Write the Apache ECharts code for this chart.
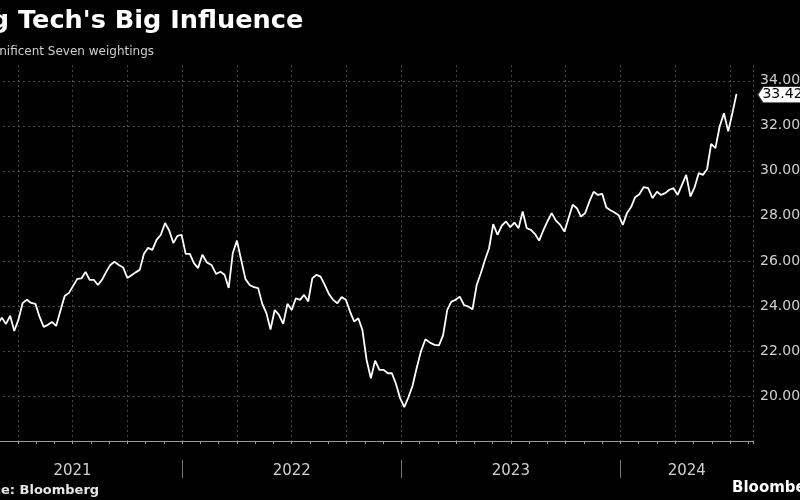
<!DOCTYPE html>
<html><head><meta charset="utf-8">
<script src="https://cdn.jsdelivr.net/npm/echarts@6/dist/echarts.min.js"></script>
<style>html,body{margin:0;padding:0;background:#000}#c{width:800px;height:500px}</style>
</head><body><div id="c"></div>
<script>
const titleText = "Big Tech's Big Influence";
const subtitleText = "Magnificent Seven weightings";
const sourceText = "Source: Bloomberg";
const brandText = "Bloomberg";
const firstWeek = "2021-01-01";   // weekly observations from this date
const axisEnd = "2024-08-09";
const yearLabels = ["2021", "2022", "2023", "2024"];
const weightings = [
 22.8,23.0,22.9,23.2,23.4,23.3,23.6,23.5,23.2,23.47,
 23.2,23.56,22.89,23.38,24.13,24.27,24.13,24.09,23.51,23.07,
 23.16,23.29,23.11,23.78,24.44,24.58,24.89,25.20,25.22,25.51,
 25.16,25.16,24.93,25.16,25.51,25.82,25.96,25.82,25.71,25.24,
 25.36,25.49,25.60,26.31,26.58,26.49,26.93,27.16,27.68,27.35,
 26.79,27.11,27.16,26.31,26.31,25.90,25.68,26.27,25.93,25.82,
 25.42,25.52,25.38,24.80,26.35,26.90,26.04,25.19,24.93,24.83,
 24.79,24.09,23.68,22.95,23.82,23.60,23.20,24.09,23.82,24.34,
 24.27,24.49,24.20,25.23,25.38,25.30,24.93,24.53,24.27,24.12,
 24.39,24.27,23.75,23.30,23.45,22.93,21.60,20.79,21.57,21.16,
 21.16,21.01,21.01,20.53,19.90,19.50,19.94,20.44,21.23,21.97,
 22.52,22.37,22.27,22.25,22.70,23.82,24.19,24.27,24.41,24.04,
 23.97,23.85,24.93,25.45,26.04,26.56,27.63,27.16,27.56,27.75,
 27.50,27.70,27.45,28.19,27.45,27.38,27.19,26.90,27.35,27.75,
 28.12,27.79,27.60,27.30,27.90,28.49,28.34,27.97,28.12,28.64,
 29.07,28.93,28.98,28.37,28.25,28.15,28.03,27.60,28.12,28.39,
 28.83,28.96,29.28,29.23,28.79,29.07,28.93,29.01,29.16,29.23,
 28.93,29.38,29.82,28.86,29.28,29.90,29.82,30.07,31.20,31.01,
 31.97,32.56,31.75,32.56,33.42
];

function toMonths(d) {
  const y = d.getUTCFullYear(), m = d.getUTCMonth(), day = d.getUTCDate();
  const dim = new Date(Date.UTC(y, m + 1, 0)).getUTCDate();
  return (y - 2021) * 12 + m + (day - 1) / dim;
}
const t0 = Date.parse(firstWeek + "T00:00:00Z");
const seriesData = weightings.map((v, i) => [toMonths(new Date(t0 + i * 7 * 86400000)), v]);
const xMax = toMonths(new Date(Date.parse(axisEnd + "T00:00:00Z")));
const last = seriesData[seriesData.length - 1];

const gridColor = "#4a4a4a";
const axisColor = "#9a9a9a";
const labelColor = "#d0d0d0";
const font = "DejaVu Sans";

const titleFont = "bold 25.6px 'DejaVu Sans'";
const subFont = "12px 'DejaVu Sans'";
const srcFont = "bold 13px 'DejaVu Sans'";
const brandFont = "bold 15px 'DejaVu Sans'";
const mctx = document.createElement("canvas").getContext("2d");
function w(txt, f) { mctx.font = f; return mctx.measureText(txt).width; }

const chart = echarts.init(document.getElementById("c"), null, {renderer: "canvas"});
chart.setOption({
  backgroundColor: "#000",
  animation: false,
  graphic: [
    {type: "text", x: 18 - w("Big ", titleFont), y: 8, silent: true,
      style: {text: titleText, font: titleFont, fill: "#fff"}},
    {type: "text", x: 154 - w(subtitleText, subFont), y: 46, silent: true,
      style: {text: subtitleText, font: subFont, fill: "#cfcfcf"}},
    {type: "text", x: 1 - w("Sourc", srcFont), y: 484, silent: true,
      style: {text: sourceText, font: srcFont, fill: "#e6e6e6"}},
    {type: "text", x: 732, y: 481, silent: true,
      style: {text: brandText, font: brandFont, fill: "#fff"}}
  ],
  grid: {left: -37, right: 47, top: 65, bottom: 59, containLabel: false, outerBoundsMode: "none"},
  xAxis: [
    {
      type: "value", position: "bottom", min: 0, max: xMax, interval: 1,
      axisLine: {show: true, lineStyle: {color: axisColor, width: 1}},
      axisTick: {show: true, length: 3, lineStyle: {color: axisColor}},
      axisLabel: {show: false}, splitLine: {show: false}
    },
    {
      type: "value", position: "bottom", min: 0, max: xMax, interval: 3,
      axisLine: {show: false}, axisTick: {show: false}, axisLabel: {show: false},
      splitLine: {show: true, lineStyle: {color: gridColor, type: [2, 3], width: 1}}
    },
    {
      type: "value", position: "bottom", offset: 19, min: 0, max: xMax,
      axisLine: {show: false},
      axisTick: {show: true, customValues: [12, 24, 36], length: 18, lineStyle: {color: "#777"}},
      axisLabel: {
        show: true, customValues: [6, 18, 30, (36 + xMax) / 2], margin: 4,
        color: labelColor, fontSize: 15, fontFamily: font,
        formatter: v => yearLabels[Math.floor(v / 12)]
      },
      splitLine: {show: false}
    }
  ],
  yAxis: {
    type: "value", position: "right", min: 18, max: 34.7, interval: 2,
    axisLine: {show: true, lineStyle: {color: axisColor, width: 1}},
    axisTick: {show: true, length: 4, inside: false, lineStyle: {color: axisColor}},
    minorTick: {show: true, splitNumber: 2, length: 4, lineStyle: {color: axisColor}},
    axisLabel: {show: true, showMinLabel: false, showMaxLabel: false, margin: 7,
      color: labelColor, fontSize: 14, fontFamily: font, formatter: v => v.toFixed(2)},
    splitLine: {show: true, showMinLine: false, showMaxLine: false,
      lineStyle: {color: gridColor, type: [2, 3], width: 1}}
  },
  series: [{
    type: "line", xAxisIndex: 0, yAxisIndex: 0, data: seriesData,
    showSymbol: false, symbol: "none",
    lineStyle: {color: "#fff", width: 1.8},
    markPoint: {
      symbol: "path://M0,8 L6,0 L60,0 L60,16 L6,16 Z",
      symbolSize: [52, 16], symbolOffset: [47, 1], symbolKeepAspect: false,
      itemStyle: {color: "#fff", borderColor: "#222", borderWidth: 1},
      label: {show: true, position: "inside", offset: [-1, 0], color: "#000", fontSize: 14, fontFamily: font,
        formatter: p => Number(p.value).toFixed(2)},
      data: [{coord: last, value: last[1]}]
    }
  }]
});
</script></body></html>
